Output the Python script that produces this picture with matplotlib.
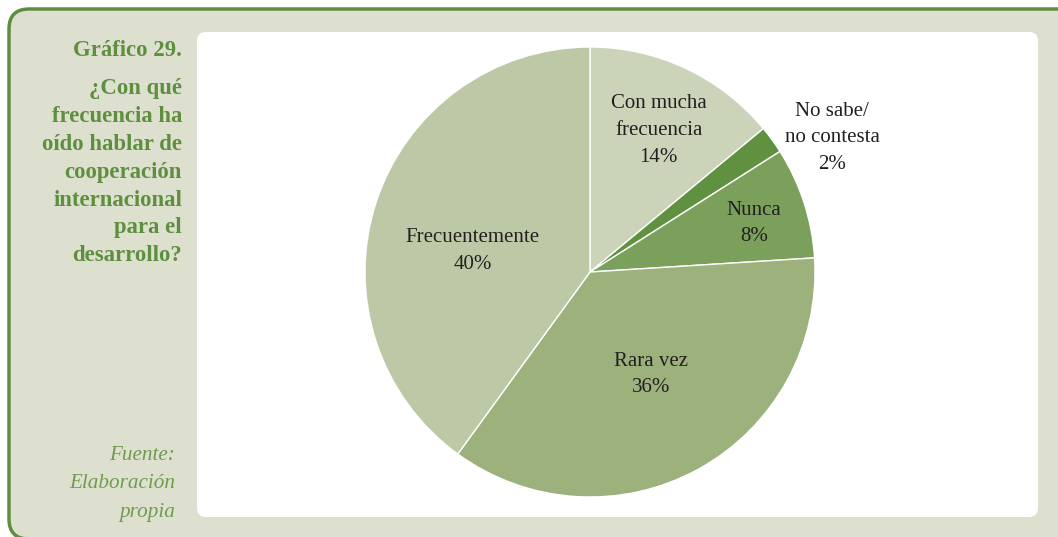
import numpy as np
import matplotlib.pyplot as plt
from matplotlib.patches import FancyBboxPatch

# Survey answers, clockwise from the top
labels = ['Con mucha\nfrecuencia', 'No sabe/\nno contesta', 'Nunca', 'Rara vez', 'Frecuentemente']
values = [14, 2, 8, 36, 40]
colors = ['#cbd3b9', '#5f9140', '#7aa05b', '#9db17c', '#bdc9a6']

title_lines = 'Gráfico 29.'
question = '¿Con qué\nfrecuencia ha\noído hablar de\ncooperación\ninternacional\npara el\ndesarrollo?'
source = 'Fuente:\nElaboración\npropia'

green = '#5e8f3f'
serif = ['Liberation Serif', 'DejaVu Serif']
W, H = 1058, 537

fig = plt.figure(figsize=(W / 100, H / 100), dpi=100)
fig.patch.set_facecolor('white')

# background frame in pixel units
bg = fig.add_axes([0, 0, 1, 1])
bg.set_xlim(0, W)
bg.set_ylim(H, 0)
bg.axis('off')
bg.add_patch(FancyBboxPatch((9, 9), 1070, 530, boxstyle='round,pad=0,rounding_size=20',
                            facecolor='#dde0cf', edgecolor=green, linewidth=2.5))
bg.add_patch(FancyBboxPatch((197, 32), 841, 485, boxstyle='round,pad=0,rounding_size=9',
                            facecolor='white', edgecolor='none'))

bg.text(182, 51, title_lines, ha='right', va='center', color=green,
        fontsize=16.4, fontweight='bold', family=serif)
bg.text(182, 78, question, ha='right', va='top', color=green, fontsize=16.4,
        fontweight='bold', family=serif, linespacing=1.43)
bg.text(175, 484, source, ha='right', va='center', color='#6f9a4f', fontsize=15.2,
        style='italic', family=serif, linespacing=1.65)

# pie
cx, cy, r = 590, 272, 225
ax = fig.add_axes([(cx - r) / W, (H - cy - r) / H, 2 * r / W, 2 * r / H])
wedges, _ = ax.pie(values, colors=colors, startangle=90, counterclock=False,
                   wedgeprops=dict(edgecolor='white', linewidth=1.0))
ax.set_xlim(-1, 1)
ax.set_ylim(-1, 1)
ax.set_aspect('equal')

# label distance and angle shift for each slice
dist = [0.70, 1.23, 0.76, 0.53, 0.53]
shift = [-0.7, -7, -1.5, 2, 8]
for w, lab, v, d, s in zip(wedges, labels, values, dist, shift):
    mid = np.deg2rad((w.theta1 + w.theta2) / 2 + s)
    ax.text(d * np.cos(mid), d * np.sin(mid), f'{lab}\n{v}%', ha='center', va='center',
            fontsize=15, color='#231f20', family=serif, linespacing=1.55)

fig.savefig('out.png', dpi=100)
